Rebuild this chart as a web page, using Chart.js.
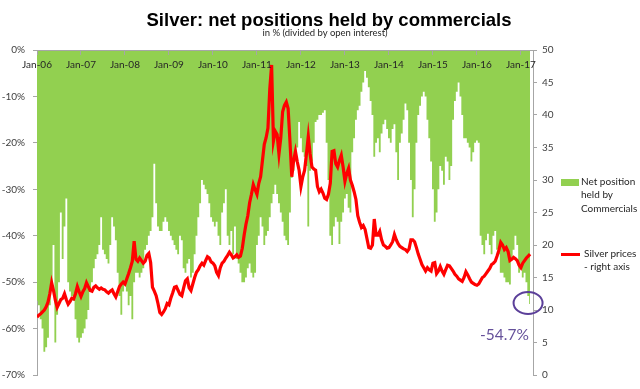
<!DOCTYPE html>
<html><head><meta charset="utf-8">
<script src="https://cdn.jsdelivr.net/npm/chart.js@4/dist/chart.umd.min.js"></script>
<style>
html,body{margin:0;padding:0;background:#fff;}
#wrap{position:relative;width:640px;height:389px;overflow:hidden;}
canvas{position:absolute;left:0;top:0;}
.t{position:absolute;white-space:nowrap;}
.lg{font:10px 'Lato',sans-serif;color:#262626;line-height:13.3px;}
</style></head><body>
<div id="wrap">
<canvas id="c" width="640" height="389"></canvas>
<div class="t" style="left:9px;width:640px;text-align:center;top:9px;font:bold 18.5px 'Liberation Sans',Arial,sans-serif;color:#000;">Silver: net positions held by commercials</div>
<div class="t" style="left:5px;width:640px;text-align:center;top:27px;font:9.5px 'Lato',sans-serif;color:#262626;">in % (divided by open interest)</div>
<div class="t" style="left:561px;top:179px;width:18px;height:7px;background:#92D050;"></div>
<div class="t lg" style="left:581px;top:175px;">Net position<br>held by<br>Commercials</div>
<div class="t" style="left:561px;top:253px;width:19px;height:3px;background:#FF0000;"></div>
<div class="t lg" style="left:584px;top:247px;">Silver prices<br>- right axis</div>
<div class="t" style="left:480px;top:325px;font:15.5px 'Lato',sans-serif;color:#65509A;">-54.7%</div>
</div>
<script>
// Net positions held by commercials, % of open interest, semi-monthly from Jan-06
const netPositions = [
 -54,-55,-58,-60,-65,-64,-62,-55,-50,-42,-63,-57,-50,-35,-45,-38,-32,-50,-52,-53,-54,-58,-62,-63,
 -62,-61,-60,-58,-56,-52,-50,-47,-45,-44,-42,-36,-43,-44,-45,-46,-42,-36,-38,-41,-48,-53,-57,-52,
 -50,-52,-55,-53,-58,-50,-48,-48,-49,-48,-47,-43,-42,-40,-39,-36,-24.5,-33,-38,-39,-39,-37,-36,-37,
 -39,-40,-41,-42,-43,-44,-40,-41,-47,-48,-46,-45,-49,-48,-44,-40,-36,-33,-28,-29,-30,-31,-33,-36,
 -37,-38,-37,-40,-42,-35,-33,-30,-40,-42,-39,-44,-38,-45,-46,-48,-50,-50,-49,-47,-46,-48,-49,-48,
 -42,-40,-36,-38,-42,-40,-39,-36,-33,-31,-29,-31,-33,-35,-37,-40,-41,-42,-35,-27.5,-26,-24,-21,-15.5,
 -19,-22,-23,-25,-38,-26,-24,-20,-15.5,-15,-14,-14,-13.5,-13,-20,-28,-40,-42,-38,-36,-37,-41.8,-37,-35,
 -32,-31,-34,-35,-22,-19,-15,-13,-12,-9,-7,-4.5,-6,-8,-11,-14,-23,-20,-19,-22,-18,-16,-15,-17,
 -19,-20,-17,-16,-22,-28,-20,-18,-15,-11.5,-13,-20,-28,-36,-30,-20,-14,-12,-10,-9,-10,-15,-19,-24,
 -30,-37,-35,-30,-25,-26,-29,-23,-24,-28,-25,-15,-11,-9,-7,-10,-14,-19,-19,-20,-21,-24,-22,-20,
 -19.5,-20,-40,-42,-44,-41,-39.6,-42,-44,-40,-39,-43,-44,-48,-48,-49,-50,-50,-50.5,-45,-43,-40,-42,-48,
 -47,-49,-48,-50,-53,-54.7
];
// Silver price, USD/oz (right axis), semi-monthly from Jan-06
const silverPrices = [
 8.9,9.2,9.4,9.7,10.0,10.5,11.2,12.5,14.2,13.0,11.5,10.4,11.0,11.6,11.8,12.5,11.6,10.9,11.3,11.8,11.7,12.5,13.6,12.8,
 12.1,12.8,13.3,14.2,13.6,13.0,12.9,13.5,13.7,13.4,13.2,13.4,13.2,13.1,12.8,12.6,12.9,13.1,12.5,12.0,12.8,13.6,14.0,14.3,
 14.0,14.8,15.6,16.5,17.5,20.6,17.8,17.5,18.0,17.6,17.2,17.5,18.4,18.7,17.3,13.5,12.9,12.2,11.0,9.6,9.3,9.7,10.2,11.0,
 10.8,11.8,12.6,13.5,13.6,13.0,12.4,12.2,13.4,14.5,14.8,13.4,13.0,14.0,15.0,15.8,16.2,16.8,17.2,16.9,17.6,18.2,18.0,17.4,
 17.2,16.8,15.8,15.3,16.5,17.2,17.5,18.0,18.4,18.9,18.5,18.0,18.2,18.5,18.1,18.3,19.5,21.5,23.2,24.5,26.5,27.8,29.3,28.5,
 27.8,29.5,30.5,33.0,35.5,36.5,38.0,44.0,47.7,36.0,37.5,37.0,34.0,36.5,40.5,41.5,42.0,41.0,36.0,30.5,33.0,34.4,32.8,31.5,
 29.0,30.5,31.5,34.0,36.7,34.0,32.0,31.7,31.5,29.0,28.2,28.6,28.0,27.2,27.0,27.8,29.5,34.4,34.5,32.5,32.0,33.0,33.8,32.0,
 29.8,31.0,31.8,30.0,29.2,28.2,27.0,24.5,23.5,22.7,23.0,22.4,21.0,19.6,19.5,20.0,24.0,21.5,21.5,22.1,20.8,20.0,19.8,19.5,
 19.6,20.0,20.5,21.6,20.8,20.2,19.8,19.6,19.4,19.3,19.0,19.4,20.8,20.8,20.5,19.6,18.6,17.8,17.0,16.5,16.0,16.5,16.2,16.0,
 17.2,17.3,15.6,16.0,16.7,16.0,15.5,16.2,16.9,16.8,16.4,16.0,15.5,15.2,14.8,14.6,14.4,15.0,15.9,15.4,14.8,14.3,14.1,13.9,
 13.8,14.0,14.5,15.0,15.2,15.6,16.0,16.4,17.0,17.2,17.5,18.3,19.2,20.4,20.0,19.3,19.6,19.0,17.6,17.8,18.1,17.9,17.6,16.9,
 16.5,17.2,17.6,18.0,18.3,18.6
];
const xTickLabels = ['Jan-06','Jan-07','Jan-08','Jan-09','Jan-10','Jan-11','Jan-12','Jan-13','Jan-14','Jan-15','Jan-16','Jan-17'];
const stepMonths = 0.5; // spacing of the data points, in months

const toPoints = arr => arr.map((v, i) => ({x: i * stepMonths, y: v}));
const tickMonths = xTickLabels.map((_, i) => i * 12);

Chart.defaults.font.family = "'Lato', sans-serif";
Chart.defaults.font.size = 10;
Chart.defaults.color = '#404040';

const markPlugin = {
  id: 'lastMark',
  afterDatasetsDraw(chart) {
    const xs = chart.scales.x, ys = chart.scales.y, ctx = chart.ctx;
    const i = netPositions.length - 1;
    const cx = xs.getPixelForValue(i * stepMonths) - 2;
    const cy = ys.getPixelForValue(netPositions[i]) - 1;
    ctx.save();
    ctx.beginPath();
    ctx.ellipse(cx, cy, 14.5, 11, 0, 0, Math.PI * 2);
    ctx.strokeStyle = '#5B3F99';
    ctx.lineWidth = 2;
    ctx.stroke();
    ctx.restore();
  }
};

new Chart(document.getElementById('c'), {
  type: 'line',
  data: {
    datasets: [
      {
        label: 'Silver prices - right axis',
        data: toPoints(silverPrices),
        yAxisID: 'y2',
        borderColor: '#FF0000',
        borderWidth: 3.2,
        pointRadius: 0,
        tension: 0,
        fill: false
      },
      {
        label: 'Net position held by Commercials',
        data: toPoints(netPositions),
        yAxisID: 'y',
        borderWidth: 0,
        borderColor: 'rgba(0,0,0,0)',
        backgroundColor: '#92D050',
        pointRadius: 0,
        stepped: 'middle',
        fill: 'origin'
      }
    ]
  },
  options: {
    responsive: false,
    animation: false,
    devicePixelRatio: 1,
    layout: {padding: {top: 50, bottom: 13, left: 0, right: 77}},
    plugins: {legend: {display: false}, tooltip: {enabled: false}},
    scales: {
      x: {
        type: 'linear',
        position: {y: 0},
        min: 0,
        max: 135.3,
        afterBuildTicks: s => { s.ticks = tickMonths.map(v => ({value: v})); },
        ticks: {
          z: 1, autoSkip: false, maxRotation: 0, padding: 5, color: '#262626',
          callback: (v, i) => xTickLabels[i]
        },
        grid: {z: 1, display: true, drawOnChartArea: false, drawTicks: true, tickLength: 4, color: '#A6A6A6'},
        border: {z: 1, display: true, color: '#A6A6A6'}
      },
      y: {
        position: 'left',
        min: -70, max: 0,
        afterFit: s => { s.width = 37; },
        ticks: {stepSize: 10, padding: 8, callback: v => v + '%'},
        grid: {display: true, drawOnChartArea: false, drawTicks: true, tickLength: 4, color: '#A6A6A6'},
        border: {display: true, color: '#A6A6A6'}
      },
      y2: {
        position: 'right',
        min: 0, max: 50,
        afterFit: s => { s.width = 30; },
        ticks: {stepSize: 5, padding: 5},
        grid: {display: true, drawOnChartArea: false, drawTicks: true, tickLength: 4, color: '#A6A6A6'},
        border: {display: true, color: '#A6A6A6'}
      }
    }
  },
  plugins: [markPlugin]
});
</script>
</body></html>
